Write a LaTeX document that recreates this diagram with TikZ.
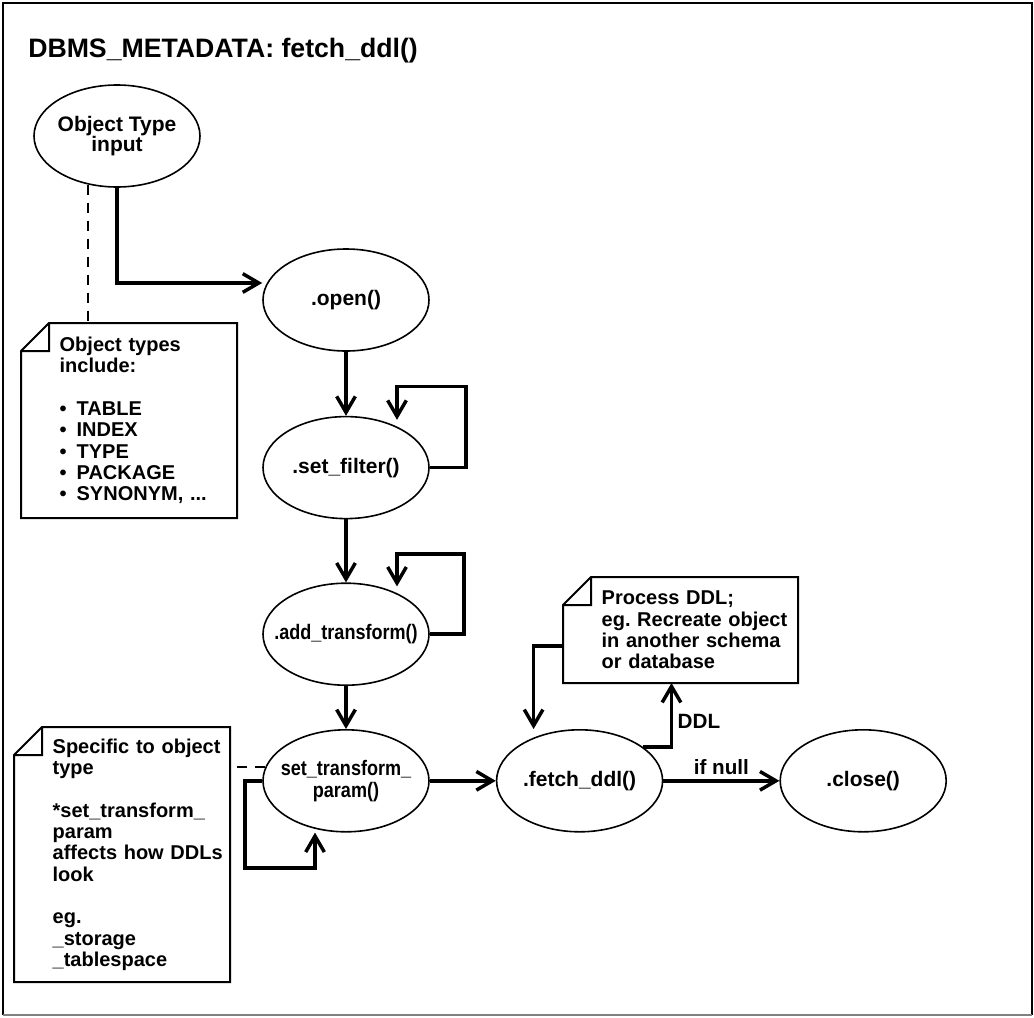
\documentclass[tikz,border=0pt]{standalone}
\usepackage{fontspec}
\setmainfont{Liberation Sans}
\newfontfamily\narrowfont[FakeStretch=0.86]{Liberation Sans}
\usetikzlibrary{arrows.meta,shapes,positioning,calc}

\begin{document}
\begin{tikzpicture}[
        x=0.75pt, y=0.75pt,
        node distance=48pt,
        oval/.style={ellipse, draw, line width=1.2pt, minimum width=124.5pt, minimum height=76.5pt,
            inner xsep=-24pt, inner ysep=0pt, align=center,
            font=\bfseries\fontsize{15.75}{15.5}\selectfont},
        note/.style={rectangle, inner sep=0pt, outer sep=0pt, align=left,
            font=\bfseries\fontsize{15}{16}\selectfont,
            execute at begin node={\leftskip=29pt},
            append after command={\pgfextra{\draw[line width=1.5pt]
                ([yshift=-21pt]\tikzlastnode.north west) -- ([xshift=21pt]\tikzlastnode.north west)
                -- (\tikzlastnode.north east) -- (\tikzlastnode.south east)
                -- (\tikzlastnode.south west) -- cycle
                ([xshift=21pt]\tikzlastnode.north west) |- ([yshift=-21pt]\tikzlastnode.north west);}}},
        arrow/.style={-{Straight Barb[length=12pt,width=14pt]}, line width=2.6pt},
        link/.style={dash pattern=on 7.5pt off 6pt, line width=1.5pt},
        lbl/.style={font=\bfseries\fontsize{15.5}{16}\selectfont}
    ]
        \useasboundingbox (0,0) rectangle (1034,-1017);
        \draw[line width=1.5pt] (3,-1015) -- (3,-3) -- (1032,-3) -- (1032,-1015);
        \draw[line width=1pt, gray] (3,-1015) -- (1032,-1015);

        \node[anchor=base west, inner sep=0pt, font=\bfseries\fontsize{20}{24}\selectfont] (title) at (28,-57) {DBMS\_METADATA: fetch\_ddl()};

        % main chain
        \node[oval] (objtype) at (117,-136) {Object Type\\input};
        \node[oval] (open) at (346,-300) {.open()};
        \node[oval, below=of open] (setfilter) {.set\_filter()};
        \node[oval, below=47.25pt of setfilter] (addtransform) {{\narrowfont .add\_transform()}};
        \node[oval, below=32.25pt of addtransform, font=\narrowfont\bfseries\fontsize{15.75}{16.5}\selectfont] (settransform) {set\_transform\_\\param()};
        \node[oval, right=49.5pt of settransform] (fetch) {.fetch\_ddl()};
        \node[oval, right=87pt of fetch] (close) {.close()};

        % notes
        \node[note, text width=162pt, minimum height=146.25pt] (typesnote) at (129,-420.5)
            {Object types\\include:\\[\baselineskip]\textbullet\enspace TABLE\\\textbullet\enspace INDEX\\\textbullet\enspace TYPE\\\textbullet\enspace PACKAGE\\\textbullet\enspace SYNONYM, ...};
        \node[note, text width=162pt, minimum height=191.25pt] (specnote) at (122,-854.5)
            {Specific to object\\type\\[\baselineskip]*set\_transform\_\\param\\affects how DDLs\\look\\[\baselineskip]eg.\\\_storage\\\_tablespace};
        \node[note, text width=176.25pt, minimum height=79.5pt] (procnote) at (680.5,-630)
            {Process DDL;\\eg.\ Recreate object\\in another schema\\or database};

        \draw[arrow] (objtype.south) |- ($(open.west)+(0,17)$);
        \draw[arrow] (open) -- (setfilter);
        \draw[arrow] (setfilter.east) -- ++(36,0) -- ++(0,81) -| ($(setfilter.north)+(51,-4)$);
        \draw[arrow] (setfilter) -- (addtransform);
        \draw[arrow] (addtransform.east) -- ++(34,0) -- ++(0,80) -| ($(addtransform.north)+(51,-4)$);
        \draw[arrow] (addtransform) -- (settransform);
        \draw[arrow] (settransform.west) -- ++(-17,0) -- ++(0,-87) -| ($(settransform.south)+(-31,0)$);
        \draw[arrow] (settransform) -- (fetch);
        \draw[arrow] (fetch) -- node[lbl, above] (ifnull) {if null} (close);
        \draw[arrow] ($(procnote.west)+(0,-16)$) -| ($(fetch.north)+(-46,0)$);
        \draw[arrow] (fetch.28) -| node[lbl, right, pos=0.7] (ddl) {DDL} ($(procnote.south)+(-9,0)$);
        \draw[link] (objtype.239) -- (objtype.239 |- typesnote.north);
        \draw[link] (settransform.170) -- (settransform.170 -| specnote.east);
    \end{tikzpicture}
\end{document}
